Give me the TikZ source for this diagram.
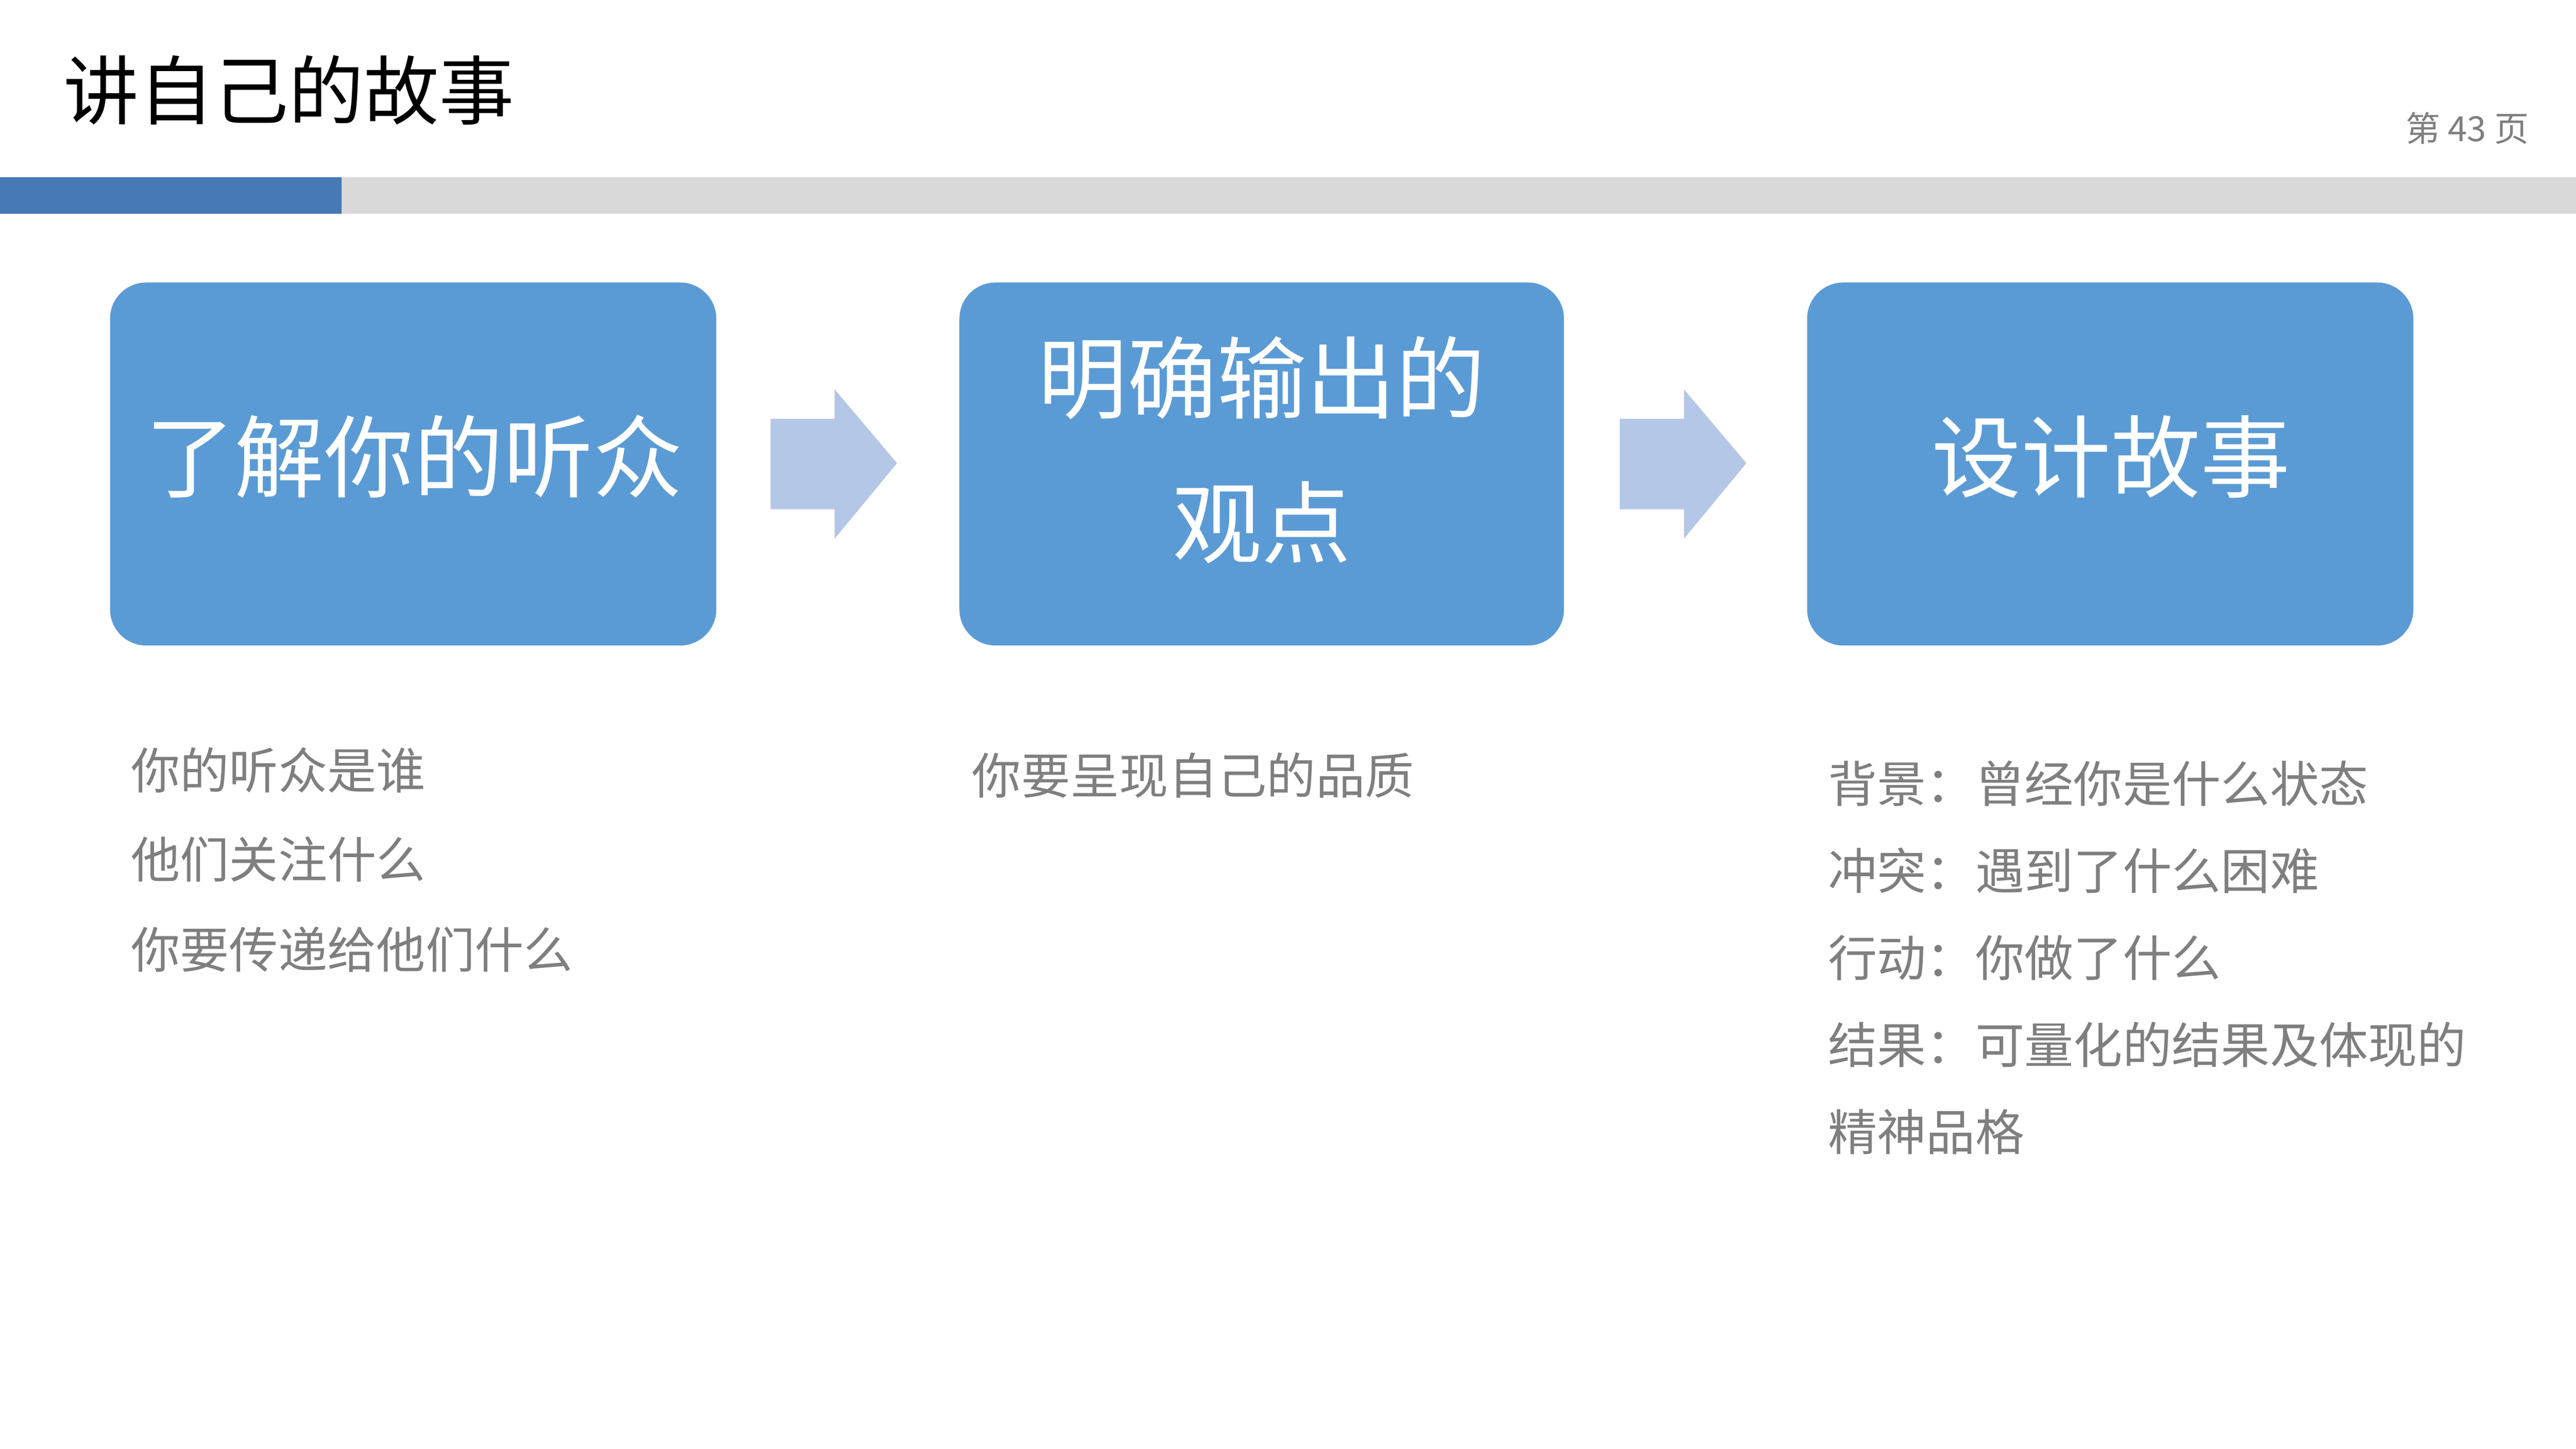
\documentclass[tikz,border=0pt]{standalone}
\usepackage{fontspec}
\setmainfont{Noto Sans CJK SC}
\usetikzlibrary{shapes.arrows}
\definecolor{boxblue}{HTML}{5B9BD5}
\definecolor{arrblue}{HTML}{B4C7E7}
\definecolor{barblue}{HTML}{4779B5}
\definecolor{bargray}{HTML}{D9D9D9}
\definecolor{txtgray}{HTML}{7F7F7F}
\begin{document}
\begin{tikzpicture}[x=0.01cm,y=-0.01cm,
  stepbox/.style={fill=boxblue,rounded corners=0.22cm},
  boxtxt/.style={text=white,font=\fontsize{15.5}{18}\selectfont},
  arr/.style={fill=arrblue},
  lst/.style={text=txtgray,anchor=west,inner sep=0,font=\fontsize{8.5}{10}\selectfont}]
\useasboundingbox (0,0) rectangle (1568,882);
\node[anchor=west,inner sep=0,font=\fontsize{13}{15}\selectfont] (title) at (38,55) {讲自己的故事};
\node[anchor=east,inner sep=0,text=txtgray,font=\fontsize{6}{7}\selectfont] (page) at (1540,78) {第 43 页};
\fill[barblue] (0,108) rectangle (208,130);
\fill[bargray] (208,108) rectangle (1568,130);
\fill[stepbox] (67,172) rectangle (436,393);
\fill[stepbox] (584,172) rectangle (952,393);
\fill[stepbox] (1100,172) rectangle (1469,393);
\node[boxtxt] (b1) at (252,278) {了解你的听众};
\node[boxtxt] (b2a) at (768,230) {明确输出的};
\node[boxtxt] (b2b) at (768,318) {观点};
\node[boxtxt] (b3) at (1285,278) {设计故事};
\fill[arr] (469,255) -- (508,255) -- (508,237) -- (546,282) -- (508,328) -- (508,310) -- (469,310) -- cycle;
\fill[arr] (986,255) -- (1025,255) -- (1025,237) -- (1063,282) -- (1025,328) -- (1025,310) -- (986,310) -- cycle;
\node[lst] (l1) at (79,469) {你的听众是谁};
\node[lst] (l2) at (79,523) {他们关注什么};
\node[lst] (l3) at (79,578) {你要传递给他们什么};
\node[lst] (m1) at (591,472) {你要呈现自己的品质};
\node[lst] (r1) at (1112,477) {背景：曾经你是什么状态};
\node[lst] (r2) at (1112,530) {冲突：遇到了什么困难};
\node[lst] (r3) at (1112,583) {行动：你做了什么};
\node[lst] (r4) at (1112,636) {结果：可量化的结果及体现的};
\node[lst] (r5) at (1112,689) {精神品格};
\end{tikzpicture}
\end{document}
